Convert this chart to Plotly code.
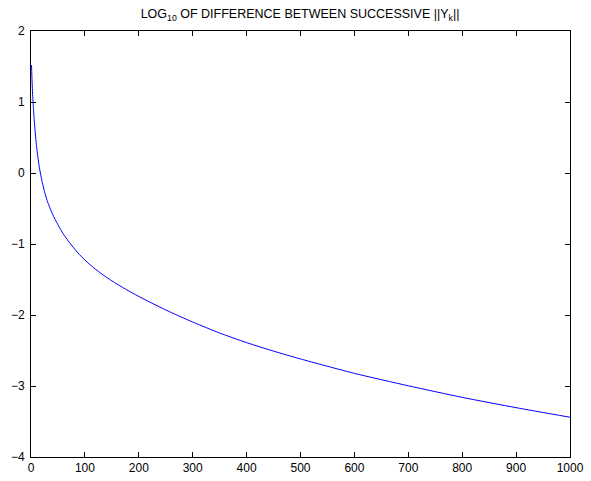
import plotly.graph_objects as go

# Iteration index k and log10 of difference between successive ||Y_k||
k_vals = [1, 2, 3, 4, 6, 8, 10, 12, 15, 20, 25, 30, 40, 50, 60, 75, 90, 110, 130,
          150, 175, 200, 250, 300, 350, 400, 450, 500, 600, 700, 800, 900, 1000]
log_diff = [1.52, 1.28, 1.11, 0.97, 0.75, 0.55, 0.40, 0.27, 0.10, -0.10, -0.26, -0.39,
            -0.58, -0.73, -0.86, -1.015, -1.15, -1.295, -1.415, -1.519, -1.634, -1.739,
            -1.929, -2.099, -2.254, -2.389, -2.509, -2.619, -2.822, -2.997, -3.16, -3.305, -3.44]

x_ticks = list(range(0, 1001, 100))
y_ticks = [-4, -3, -2, -1, 0, 1, 2]

title_text = "LOG<sub>10</sub> OF DIFFERENCE BETWEEN SUCCESSIVE ||Y<sub>k</sub>||"

fig = go.Figure()
fig.add_trace(go.Scatter(
    x=k_vals, y=log_diff, mode="lines",
    line=dict(color="#0000ff", width=1, shape="spline", smoothing=0.6),
    showlegend=False,
))

axis_common = dict(
    showline=True, linecolor="black", linewidth=1, mirror="allticks",
    ticks="inside", ticklen=5, tickcolor="black", tickwidth=1,
    showgrid=False, zeroline=False, automargin=False,
    tickfont=dict(family="Liberation Sans, Arial, sans-serif", size=12, color="black"),
)

fig.update_layout(
    width=591, height=481,
    margin=dict(l=31, r=21, t=31, b=24, autoexpand=False),
    paper_bgcolor="white", plot_bgcolor="white",
    font=dict(family="Liberation Sans, Arial, sans-serif", size=12, color="black"),
    title=dict(text=title_text, x=0.5077, xanchor="center",
               y=1 - 14 / 481, yanchor="middle", yref="container",
               font=dict(size=12.5, color="black")),
    xaxis=dict(range=[0, 1000], tickvals=x_ticks, ticktext=[str(v) for v in x_ticks],
               **axis_common),
    yaxis=dict(range=[-4, 2], tickvals=y_ticks, ticklabelstandoff=3, **axis_common),
)

fig.write_html("out.html")
